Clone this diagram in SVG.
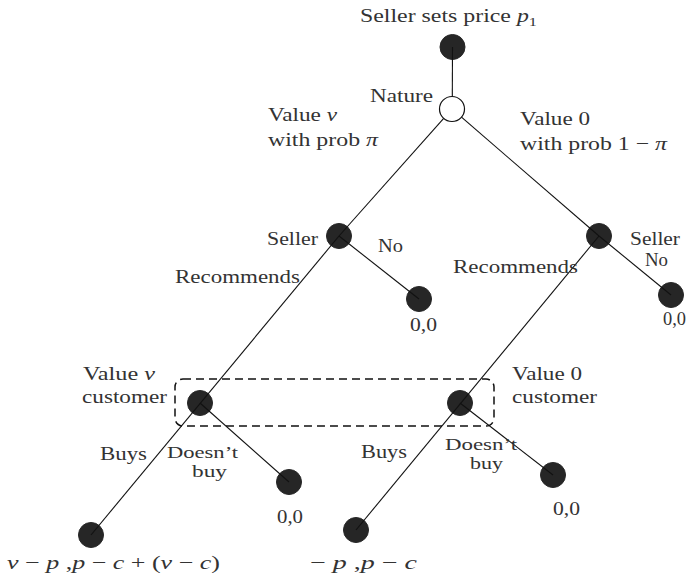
<svg xmlns="http://www.w3.org/2000/svg" width="690" height="578" viewBox="0 0 690 578">
<style>
text{font-family:"Liberation Serif","Times New Roman",serif;font-size:19px;fill:#333;}
.i{font-style:italic;}
.sm{font-size:17px;}
.dot{fill:#262626;stroke:#262626;stroke-width:1;}
.chance{fill:#fff;stroke:#111;stroke-width:1.2;}
.edge{stroke:#111;stroke-width:1.1;fill:none;}
.info{fill:none;stroke:#111;stroke-width:1.5;stroke-dasharray:8 5;}
</style>
<rect width="690" height="578" fill="#fff"/>
<g id="nodes">
<g id="n-root"><circle class="dot" cx="452.5" cy="47" r="12.5"/><text x="360" y="22" textLength="177" lengthAdjust="spacingAndGlyphs">Seller sets price <tspan class="i">p</tspan><tspan font-size="13" dy="4">1</tspan></text></g>
<g id="n-nature"><circle class="chance" cx="452" cy="109" r="12.5"/><text x="370" y="102" textLength="63" lengthAdjust="spacingAndGlyphs">Nature</text></g>
<g id="n-seller-l"><circle class="dot" cx="339" cy="236" r="12.5"/><text x="267" y="245" textLength="51" lengthAdjust="spacingAndGlyphs">Seller</text></g>
<g id="n-no-l"><circle class="dot" cx="419" cy="299" r="12.5"/><text x="410" y="331" textLength="27" lengthAdjust="spacingAndGlyphs">0,0</text></g>
<g id="n-seller-r"><circle class="dot" cx="599" cy="236" r="12.5"/><text x="630" y="245" textLength="50" lengthAdjust="spacingAndGlyphs">Seller</text></g>
<g id="n-no-r"><circle class="dot" cx="671" cy="295" r="12.5"/><text x="663" y="325" textLength="23" lengthAdjust="spacingAndGlyphs">0,0</text></g>
<g id="n-cust-l"><circle class="dot" cx="200" cy="403" r="12.5"/><text x="83" y="380" textLength="72" lengthAdjust="spacingAndGlyphs">Value <tspan class="i">v</tspan></text><text x="82" y="403" textLength="85" lengthAdjust="spacingAndGlyphs">customer</text></g>
<g id="n-cust-r"><circle class="dot" cx="460" cy="403" r="12.5"/><text x="512" y="380" textLength="70" lengthAdjust="spacingAndGlyphs">Value 0</text><text x="512" y="403" textLength="85" lengthAdjust="spacingAndGlyphs">customer</text></g>
<g id="n-dnb-l"><circle class="dot" cx="289" cy="482" r="12.5"/><text x="277" y="523" textLength="26" lengthAdjust="spacingAndGlyphs">0,0</text></g>
<g id="n-dnb-r"><circle class="dot" cx="553" cy="475" r="12.5"/><text x="553" y="515" textLength="27" lengthAdjust="spacingAndGlyphs">0,0</text></g>
<g id="n-buy-l"><circle class="dot" cx="91" cy="535" r="12.5"/><text x="7" y="569" textLength="213" lengthAdjust="spacingAndGlyphs"><tspan class="i">v</tspan> − <tspan class="i">p</tspan> ,<tspan class="i">p</tspan>  − <tspan class="i">c</tspan> + (<tspan class="i">v</tspan> − <tspan class="i">c</tspan>)</text></g>
<g id="n-buy-r"><circle class="dot" cx="356" cy="530" r="12.5"/><text x="310" y="569" textLength="107" lengthAdjust="spacingAndGlyphs">− <tspan class="i">p</tspan> ,<tspan class="i">p</tspan>  − <tspan class="i">c</tspan></text></g>
</g>
<g id="info-set"><rect class="info" x="175" y="379" width="319" height="47" rx="8"/></g>
<g id="connectors">
<line class="edge" x1="452.5" y1="47" x2="452.3" y2="96.5"/>
<line class="edge" x1="443.7" y1="118.3" x2="339" y2="236"/>
<line class="edge" x1="461.5" y1="117.2" x2="599" y2="236"/>
<line class="edge" x1="339" y1="236" x2="91" y2="535"/>
<line class="edge" x1="599" y1="236" x2="356" y2="530"/>
<line class="edge" x1="339" y1="236" x2="419" y2="299"/>
<line class="edge" x1="599" y1="236" x2="671" y2="295"/>
<line class="edge" x1="200" y1="403" x2="289" y2="482"/>
<line class="edge" x1="460" y1="403" x2="553" y2="475"/>
</g>
<g id="labels">
<text x="268" y="121" textLength="69" lengthAdjust="spacingAndGlyphs">Value <tspan class="i">v</tspan></text>
<text x="268" y="146" textLength="110" lengthAdjust="spacingAndGlyphs">with prob <tspan class="i">π</tspan></text>
<text x="520" y="125" textLength="70" lengthAdjust="spacingAndGlyphs">Value 0</text>
<text x="520" y="150" textLength="147" lengthAdjust="spacingAndGlyphs">with prob 1 − <tspan class="i">π</tspan></text>
<text x="378" y="252" textLength="25" lengthAdjust="spacingAndGlyphs">No</text>
<text x="645" y="266" textLength="23" lengthAdjust="spacingAndGlyphs">No</text>
<text x="175" y="283" textLength="125" lengthAdjust="spacingAndGlyphs">Recommends</text>
<text x="453" y="273" textLength="125" lengthAdjust="spacingAndGlyphs">Recommends</text>
<text x="100" y="460" textLength="47" lengthAdjust="spacingAndGlyphs">Buys</text>
<text class="sm" x="167" y="458" textLength="71" lengthAdjust="spacingAndGlyphs">Doesn’t</text>
<text class="sm" x="192" y="477" textLength="35" lengthAdjust="spacingAndGlyphs">buy</text>
<text x="361" y="458" textLength="46" lengthAdjust="spacingAndGlyphs">Buys</text>
<text class="sm" x="445" y="450" textLength="72" lengthAdjust="spacingAndGlyphs">Doesn’t</text>
<text class="sm" x="470" y="469" textLength="33" lengthAdjust="spacingAndGlyphs">buy</text>
</g>
</svg>
